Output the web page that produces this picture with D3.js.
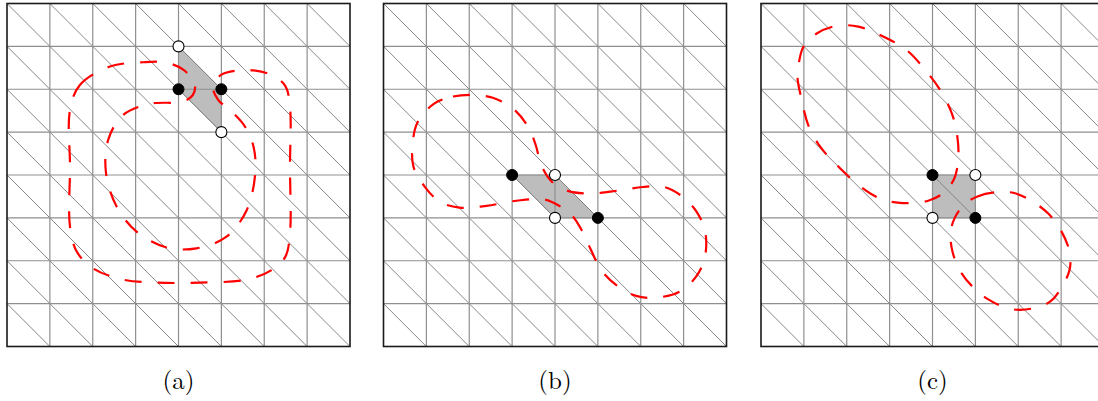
<!DOCTYPE html>
<html>
<head>
<meta charset="utf-8">
<script src="https://cdn.jsdelivr.net/npm/d3@7"></script>
<style>
  html, body { margin: 0; padding: 0; background: #fff; }
  svg { display: block; }
</style>
</head>
<body>
<svg id="chart" width="1098" height="401"></svg>
<script>
// ---------- data (grid units, 0..8) ----------
const panelLabels = ["(a)", "(b)", "(c)"];
const gridTicks = [0, 1, 2, 3, 4, 5, 6, 7, 8];

const shadedA = [[4,1],[5,2],[5,3],[4,2]];
const shadedB = [[3,4],[4,4],[5,5],[4,5]];
const shadedC = [[4,4],[5,4],[5,5],[4,5]];

const blackDotsA = [[4,2],[5,2]];
const whiteDotsA = [[4,1],[5,3]];
const blackDotsB = [[3,4],[5,5]];
const whiteDotsB = [[4,4],[4,5]];
const blackDotsC = [[4,4],[5,5]];
const whiteDotsC = [[5,4],[4,5]];

const curveA = [
  [1.47,2.48],[1.70,1.90],[2.40,1.47],[3.18,1.37],[3.72,1.38],[4.12,1.55],
  [4.38,1.88],[4.33,2.14],[4.08,2.29],[3.34,2.34],[2.71,2.60],[2.36,3.18],
  [2.31,3.96],[2.56,4.74],[3.02,5.32],[3.72,5.69],[4.42,5.71],[5.12,5.44],
  [5.59,4.82],[5.79,3.96],[5.75,3.34],[5.55,2.87],[5.24,2.52],[4.92,2.24],
  [4.80,1.92],[5.00,1.66],[5.38,1.56],[5.75,1.56],[6.18,1.67],[6.49,1.92],
  [6.60,2.41],[6.60,3.81],[6.60,5.36],[6.49,5.91],[6.17,6.22],[5.59,6.44],
  [4.50,6.51],[3.49,6.51],[2.71,6.44],[2.01,6.18],[1.63,5.79],[1.47,5.21],
  [1.47,3.81]
];

const curveB = [
  [1.19,2.33],[1.62,2.17],[2.08,2.13],[2.55,2.20],[3.02,2.45],[3.37,2.87],
  [3.55,3.30],[3.68,3.77],[3.92,4.15],[4.30,4.37],[4.85,4.43],[5.50,4.36],
  [6.05,4.28],[6.55,4.28],[6.98,4.51],[7.33,4.90],[7.51,5.36],[7.49,5.94],
  [7.29,6.37],[6.91,6.72],[6.36,6.86],[5.89,6.82],[5.43,6.57],[5.08,6.22],
  [4.84,5.75],[4.63,5.30],[4.40,4.95],[4.10,4.72],[3.75,4.57],[3.10,4.60],
  [2.40,4.72],[1.77,4.76],[1.31,4.62],[0.96,4.27],[0.70,3.81],[0.68,3.26],
  [0.80,2.76]
];

const curveC1 = [
  [0.99,1.01],[1.30,0.70],[1.77,0.52],[2.27,0.54],[2.85,0.77],[3.40,1.09],
  [3.83,1.55],[4.18,2.02],[4.45,2.56],[4.58,3.11],[4.60,3.65],[4.50,4.10],
  [4.25,4.42],[3.90,4.60],[3.24,4.65],[2.78,4.55],[2.27,4.23],[1.77,3.77],
  [1.38,3.34],[1.10,2.83],[0.95,2.25],[0.85,1.71],[0.89,1.35]
];
const curveC2 = [
  [4.75,4.68],[5.05,4.50],[5.50,4.40],[5.90,4.42],[6.30,4.60],[6.70,4.90],
  [7.00,5.30],[7.20,5.80],[7.20,6.20],[7.05,6.55],[6.75,6.95],[6.30,7.12],
  [5.80,7.12],[5.30,6.90],[4.95,6.62],[4.65,6.25],[4.47,5.80],[4.42,5.35],
  [4.52,5.00]
];

const panels = [
  { label: panelLabels[0], shaded: shadedA, black: blackDotsA, white: whiteDotsA, curves: [curveA] },
  { label: panelLabels[1], shaded: shadedB, black: blackDotsB, white: whiteDotsB, curves: [curveB] },
  { label: panelLabels[2], shaded: shadedC, black: blackDotsC, white: whiteDotsC, curves: [curveC1, curveC2] }
];

// ---------- layout ----------
const svg = d3.select("#chart");
const size = 343;
const top0 = 3.5;
const lefts = [7, 383.5, 761];

panels.forEach((p, i) => {
  const x = d3.scaleLinear().domain([0, 8]).range([lefts[i], lefts[i] + size]);
  const y = d3.scaleLinear().domain([0, 8]).range([top0, top0 + size]);
  const g = svg.append("g");

  // shaded cell region
  g.append("polygon")
    .attr("points", p.shaded.map(d => [x(d[0]), y(d[1])].join(",")).join(" "))
    .attr("fill", "#bdbdbd")
    .attr("stroke", "#a8a8a8")
    .attr("stroke-width", 1);

  // diagonals (top-left to bottom-right in each cell)
  const cells = [];
  for (let c = 0; c < 8; c++) for (let r = 0; r < 8; r++) cells.push([c, r]);
  g.selectAll("line.diag").data(cells).join("line")
    .attr("x1", d => x(d[0])).attr("y1", d => y(d[1]))
    .attr("x2", d => x(d[0] + 1)).attr("y2", d => y(d[1] + 1))
    .attr("stroke", "#7a7a7a").attr("stroke-width", 0.9);

  // grid lines
  const inner = gridTicks.slice(1, -1);
  g.selectAll("line.v").data(inner).join("line")
    .attr("x1", d => x(d)).attr("x2", d => x(d))
    .attr("y1", y(0)).attr("y2", y(8))
    .attr("stroke", "#8f8f8f").attr("stroke-width", 1.2);
  g.selectAll("line.h").data(inner).join("line")
    .attr("y1", d => y(d)).attr("y2", d => y(d))
    .attr("x1", x(0)).attr("x2", x(8))
    .attr("stroke", "#8f8f8f").attr("stroke-width", 1.2);

  // frame
  g.append("rect")
    .attr("x", x(0)).attr("y", y(0))
    .attr("width", x(8) - x(0)).attr("height", y(8) - y(0))
    .attr("fill", "none").attr("stroke", "#1a1a1a").attr("stroke-width", 1.6);

  // dashed contour curves
  const line = d3.line().x(d => x(d[0])).y(d => y(d[1]))
    .curve(d3.curveCatmullRomClosed.alpha(0.5));
  g.selectAll("path.curve").data(p.curves).join("path")
    .attr("d", line)
    .attr("fill", "none")
    .attr("stroke", "#ff0000")
    .attr("stroke-width", 2.2)
    .attr("stroke-dasharray", "17,16");

  // dots
  g.selectAll("circle.w").data(p.white).join("circle")
    .attr("cx", d => x(d[0])).attr("cy", d => y(d[1])).attr("r", 5.5)
    .attr("fill", "#fff").attr("stroke", "#000").attr("stroke-width", 1.1);
  g.selectAll("circle.b").data(p.black).join("circle")
    .attr("cx", d => x(d[0])).attr("cy", d => y(d[1])).attr("r", 5.5)
    .attr("fill", "#000").attr("stroke", "#000").attr("stroke-width", 1);

  // label
  g.append("text")
    .attr("x", (x(0) + x(8)) / 2)
    .attr("y", 389)
    .attr("text-anchor", "middle")
    .attr("font-family", "'Latin Modern Roman','CMU Serif','Liberation Serif','DejaVu Serif',serif")
    .attr("font-size", 25)
    .attr("fill", "#000")
    .text(p.label);
});
</script>
</body>
</html>
